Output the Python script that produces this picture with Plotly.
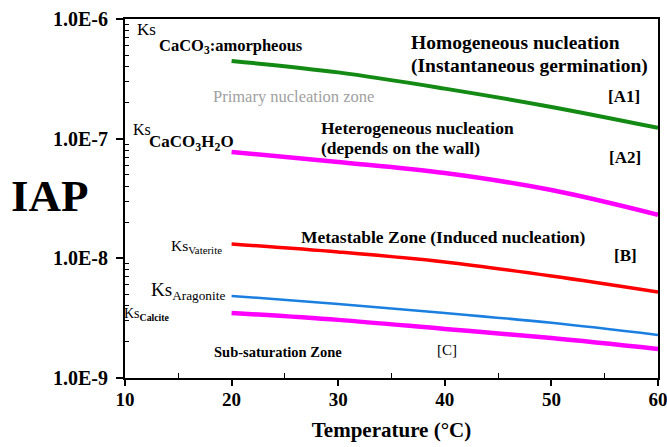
import plotly.graph_objects as go

temperature = [20, 30, 40, 50, 60]
ks_amorphous = [4.46e-7, 3.58e-7, 2.62e-7, 1.84e-7, 1.23e-7]
ks_monohydrate = [7.75e-8, 6.38e-8, 5.16e-8, 3.72e-8, 2.31e-8]
ks_vaterite = [1.32e-8, 1.13e-8, 9.33e-9, 7.13e-9, 5.24e-9]
ks_aragonite = [4.85e-9, 4.16e-9, 3.50e-9, 2.89e-9, 2.29e-9]
ks_calcite = [3.50e-9, 3.06e-9, 2.57e-9, 2.16e-9, 1.75e-9]

y_tickvals = [1e-9, 1e-8, 1e-7, 1e-6]
y_ticktext = ["<b>1.0E-9</b>", "<b>1.0E-8</b>", "<b>1.0E-7</b>", "<b>1.0E-6</b>"]
x_tickvals = [10, 20, 30, 40, 50, 60]
x_ticktext = ["<b>10</b>", "<b>20</b>", "<b>30</b>", "<b>40</b>", "<b>50</b>", "<b>60</b>"]

SERIF = "Liberation Serif, Times New Roman, serif"

fig = go.Figure()
series = [
    (ks_amorphous, "#138a13", 4),
    (ks_monohydrate, "#ff00ff", 4.5),
    (ks_vaterite, "#ff0000", 3.5),
    (ks_aragonite, "#1a7fe0", 2.5),
    (ks_calcite, "#ff00ff", 4.5),
]
for vals, col, w in series:
    fig.add_trace(go.Scatter(x=temperature, y=vals, mode="lines",
                             line=dict(color=col, width=w, shape="spline"),
                             showlegend=False, hoverinfo="skip"))

L, R, T, B = 125, 658, 19, 378
W, H = 667, 447


def px(xp, yp):
    return (xp - L) / (R - L), (B - yp) / (B - T)


def ann(xp, yp, text, size=14, bold=False, color="black", xanchor="left"):
    x, y = px(xp, yp)
    if bold:
        text = "<b>" + text + "</b>"
    fig.add_annotation(x=x, y=y, xref="paper", yref="paper", text=text,
                       showarrow=False, xanchor=xanchor, yanchor="middle",
                       borderpad=0,
                       font=dict(family=SERIF, size=size, color=color))


ann(136, 30, "Ks", 17)
ann(158, 46, "CaCO<sub>3</sub>:amorpheous", 16.5, bold=True)
ann(410, 42, "Homogeneous nucleation", 19.5, bold=True)
ann(410, 66, "(Instantaneous germination)", 19.5, bold=True)
ann(641, 96, "[A1]", 17, bold=True, xanchor="right")
ann(293, 96, "Primary nucleation zone", 16.5, color="#a0a0a0", xanchor="center")
ann(132, 129, "Ks", 16)
ann(148, 143, "CaCO<sub>3</sub>H<sub>2</sub>O", 17, bold=True)
ann(320, 128, "Heterogeneous nucleation", 17.5, bold=True)
ann(320, 148, "(depends on the wall)", 17.5, bold=True)
ann(642, 157, "[A2]", 17, bold=True, xanchor="right")
ann(223, 246, "Ks<sub>Vaterite</sub>", 15.5, xanchor="right")
ann(300, 237, "Metastable Zone (Induced nucleation)", 17.5, bold=True)
ann(638, 255, "[B]", 17, bold=True, xanchor="right")
ann(226, 291, "Ks<sub>Aragonite</sub>", 19, xanchor="right")
ann(171, 314, "Ks<sub><b>Calcite</b></sub>", 14, xanchor="right")
ann(213, 352, "<b>Sub-saturation Zone</b>", 14.5)
ann(436, 350, "[C]", 15)

fig.add_annotation(x=px(50, 0)[0], y=px(0, 196)[1], xref="paper", yref="paper",
                   text="<b>IAP</b>", showarrow=False, xanchor="center",
                   yanchor="middle",
                   font=dict(family=SERIF, size=45, color="black"))

minor_y = [m * 10 ** e for e in (-9, -8, -7) for m in range(2, 10)]

fig.update_layout(
    width=W, height=H,
    margin=dict(l=L, r=W - R, t=T, b=H - B, autoexpand=False),
    paper_bgcolor="white", plot_bgcolor="white",
    font=dict(family=SERIF, color="black"),
    xaxis=dict(range=[10, 60], tickvals=x_tickvals, ticktext=x_ticktext,
               automargin=False, ticklabeloverflow="allow",
               showgrid=False, zeroline=False,
               showline=True, linecolor="black", linewidth=2, mirror=True,
               ticks="outside", ticklen=6, tickwidth=1.5, tickcolor="black",
               ticklabelstandoff=-3,
               tickfont=dict(family=SERIF, size=19, color="black"),
               minor=dict(tickvals=[15, 25, 35, 45, 55], ticks="inside", ticklen=5,
                          tickcolor="black", tickwidth=1),
               title=dict(text="<b>Temperature (°C)</b>", standoff=14,
                          font=dict(family=SERIF, size=21, color="black"))),
    yaxis=dict(type="log", range=[-9, -6], tickvals=y_tickvals, ticktext=y_ticktext,
               automargin=False, ticklabeloverflow="allow",
               showgrid=False, zeroline=False,
               showline=True, linecolor="black", linewidth=2, mirror=True,
               ticks="outside", ticklen=7, tickwidth=1.5, tickcolor="black",
               ticklabelstandoff=4,
               tickfont=dict(family=SERIF, size=20, color="black"),
               minor=dict(tickvals=minor_y, ticks="inside", ticklen=4,
                          tickcolor="black", tickwidth=1)),
)

fig.write_html("out.html", config={"displayModeBar": False},
               post_script="document.body.style.margin='0';"
                           "document.body.style.overflow='hidden';")
